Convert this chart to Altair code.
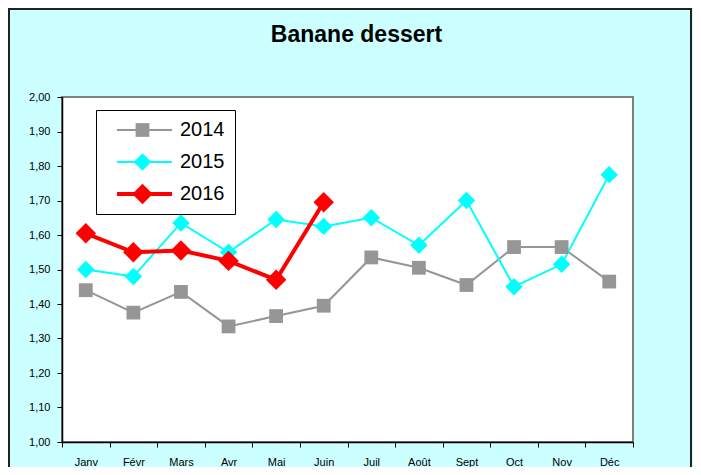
import altair as alt
import pandas as pd

mois = ["Janv", "Févr", "Mars", "Avr", "Mai", "Juin", "Juil", "Août", "Sept", "Oct", "Nov", "Déc"]
annees = ["2014", "2015", "2016"]
prix_2014 = [1.44, 1.375, 1.435, 1.335, 1.365, 1.395, 1.535, 1.505, 1.455, 1.565, 1.565, 1.465]
prix_2015 = [1.50, 1.48, 1.635, 1.55, 1.645, 1.625, 1.65, 1.57, 1.70, 1.45, 1.515, 1.775]
prix_2016 = [1.605, 1.55, 1.555, 1.525, 1.47, 1.695]
graduations_y = [1.00, 1.10, 1.20, 1.30, 1.40, 1.50, 1.60, 1.70, 1.80, 1.90, 2.00]
couleurs = ["#969696", "#00FFFF", "#FF0000"]
formes = ["square", "diamond", "diamond"]
tailles = [190, 420, 470]
epaisseurs = [2, 2, 4]

rows = []
for annee, valeurs in zip(annees, [prix_2014, prix_2015, prix_2016]):
    for i, (m, v) in enumerate(zip(mois, valeurs)):
        rows.append({"mois": m, "rang": i, "annee": annee, "prix": v})
df = pd.DataFrame(rows)

FONT = "Liberation Sans"

x_enc = alt.X(
    "mois:N", sort=mois,
    scale=alt.Scale(type="band", paddingInner=0, paddingOuter=0),
    axis=alt.Axis(title=None, labelAngle=0, tickBand="extent", tickSize=5, labelPadding=9,
                  labelFontSize=11, labelFont=FONT, labelColor="black", domainColor="black",
                  tickColor="black", domainWidth=1.5, grid=False),
)
y_enc = alt.Y(
    "prix:Q",
    scale=alt.Scale(domain=[1, 2], nice=False, zero=False),
    axis=alt.Axis(title=None, values=graduations_y,
                  labelExpr="replace(format(datum.value, '.2f'), '.', ',')",
                  tickSize=5, labelPadding=7, labelFontSize=11, labelFont=FONT,
                  labelColor="black", domainColor="black", tickColor="black",
                  domainWidth=1.5, grid=False),
)

legA = alt.Legend(title=None, orient="none", legendX=34, legendY=13, fillColor="white",
                  strokeColor="black", padding=10, symbolType="stroke", symbolSize=3025,
                  symbolOffset=9, labelOffset=6, labelFontSize=20, labelFont=FONT,
                  labelColor="black", rowPadding=12, clipHeight=20, zindex=1)
legB = alt.Legend(title=None, orient="none", legendX=60, legendY=13, padding=10,
                  labelOffset=6, labelFontSize=20, labelFont=FONT, labelExpr="''",
                  rowPadding=12, clipHeight=20, symbolStrokeWidth=0, zindex=2)

border = alt.Chart(pd.DataFrame({"c": [0]})).mark_rect(
    filled=False, stroke="#222222", strokeWidth=2
).encode(x=alt.value(-53), x2=alt.value(629), y=alt.value(-88), y2=alt.value(380))

lines = alt.Chart(df).mark_line().encode(
    x=x_enc, y=y_enc, order=alt.Order("rang:Q"),
    stroke=alt.Stroke("annee:N", scale=alt.Scale(domain=annees, range=couleurs), legend=legA),
    strokeWidth=alt.StrokeWidth("annee:N", scale=alt.Scale(type="ordinal", domain=annees, range=epaisseurs), legend=legA),
)

points = alt.Chart(df).transform_calculate(serie="datum.annee").mark_point(
    filled=True, opacity=1
).encode(
    x=x_enc, y=y_enc,
    fill=alt.Fill("serie:N", scale=alt.Scale(range=couleurs), legend=legB),
    shape=alt.Shape("serie:N", scale=alt.Scale(range=formes), legend=legB),
    size=alt.Size("serie:N", scale=alt.Scale(range=tailles), legend=legB),
)

chart = alt.layer(border, lines, points).properties(
    width=571, height=345,
    padding={"left": 54, "top": 89, "right": 60, "bottom": 25},
    autosize=alt.AutoSizeParams(type="none"),
    title=alt.TitleParams("Banane dessert", fontSize=23, fontWeight="bold", font=FONT,
                          color="black", anchor="middle", frame="group", dx=9, offset=-39),
).configure(background="#CCFFFF").configure_view(stroke="#808080", strokeWidth=2, fill="white")

chart.save("out.html", embed_options={"renderer": "svg", "actions": False})
